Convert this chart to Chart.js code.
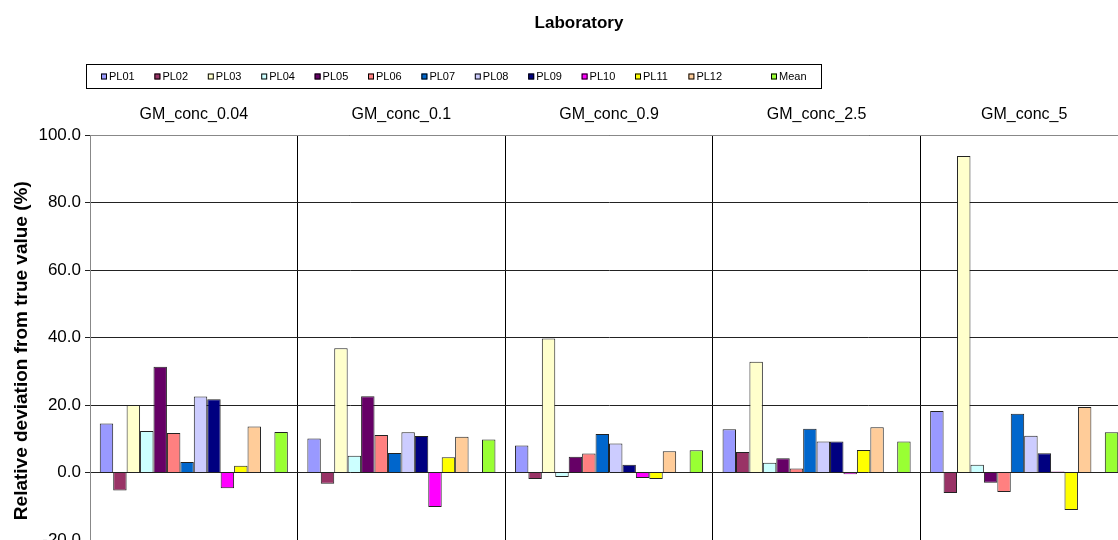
<!DOCTYPE html>
<html><head><meta charset="utf-8">
<script src="https://cdn.jsdelivr.net/npm/chart.js@4.4.1/dist/chart.umd.min.js"></script>
<style>html,body{margin:0;padding:0;overflow:hidden;background:#fff;width:1118px;height:540px}canvas{display:block}</style>
</head><body><canvas id="c" width="1158" height="560"></canvas>
<script>
const categories = ['GM_conc_0.04', 'GM_conc_0.1', 'GM_conc_0.9', 'GM_conc_2.5', 'GM_conc_5'];
const PL01 = [14.5, 10.1, 8.0, 12.8, 18.2];
const PL02 = [-5.3, -3.3, -1.9, 6.1, -6.1];
const PL03 = [20.0, 36.8, 39.7, 32.8, 93.8];
const PL04 = [12.3, 5.0, -1.3, 2.9, 2.3];
const PL05 = [31.3, 22.6, 4.7, 4.2, -3.0];
const PL06 = [11.7, 11.1, 5.6, 1.2, -5.8];
const PL07 = [3.1, 5.8, 11.4, 13.0, 17.4];
const PL08 = [22.5, 11.9, 8.6, 9.2, 10.9];
const PL09 = [21.7, 10.8, 2.3, 9.2, 5.7];
const PL10 = [-4.7, -10.2, -1.6, -0.5, 0.3];
const PL11 = [2.0, 4.5, -1.9, 6.7, -11.1];
const PL12 = [13.6, 10.6, 6.3, 13.4, 19.4];
const BLANK = [null, null, null, null, null];
const Mean = [12.0, 9.8, 6.6, 9.2, 11.9];
const yTicks = [-20, 0, 20, 40, 60, 80, 100];

const seriesNames = ['PL01','PL02','PL03','PL04','PL05','PL06','PL07','PL08','PL09','PL10','PL11','PL12','','Mean'];
const seriesValues = [PL01,PL02,PL03,PL04,PL05,PL06,PL07,PL08,PL09,PL10,PL11,PL12,BLANK,Mean];
const seriesColors = ['#9999FF','#993366','#FFFFCC','#CCFFFF','#660066','#FF8080','#0066CC','#CCCCFF','#000080','#FF00FF','#FFFF00','#FFCC99','#FFFFFF','#99FF33'];

const FONT = 'Liberation Sans, Arial, sans-serif';
Chart.defaults.font.family = FONT;
Chart.defaults.color = '#000';

const legendBox = {
  id: 'legendBox',
  afterDraw(chart) {
    const ctx = chart.ctx;
    ctx.save();
    ctx.strokeStyle = '#000';
    ctx.lineWidth = 1;
    ctx.strokeRect(86.5, 64.5, 735, 24);
    ctx.font = '11px ' + FONT;
    ctx.textBaseline = 'middle';
    ctx.textAlign = 'left';
    const y = 76.5;
    let k = 0;
    chart.data.datasets.forEach((ds) => {
      if (!ds.label) return;
      const x = ds.label === 'Mean' ? 771 : 101 + k * 53.4;
      k++;
      ctx.fillStyle = ds.backgroundColor;
      ctx.fillRect(x, y - 3, 6, 6);
      ctx.strokeStyle = '#000';
      ctx.strokeRect(x + 0.5, y - 3 + 0.5, 5, 5);
      ctx.fillStyle = '#000';
      ctx.fillText(ds.label, x + 8, y);
    });
    ctx.restore();
  }
};

new Chart(document.getElementById('c'), {
  type: 'bar',
  data: {
    labels: categories,
    datasets: seriesNames.map((n, i) => ({
      label: n,
      data: seriesValues[i],
      backgroundColor: seriesColors[i],
      borderColor: '#222',
      borderWidth: 1,
      categoryPercentage: 0.906,
      barPercentage: 1.0
    }))
  },
  options: {
    responsive: false,
    animation: false,
    devicePixelRatio: 1,
    layout: { padding: { left: 0, right: 0, top: 0, bottom: 20 } },
    plugins: {
      legend: { display: false },
      tooltip: { enabled: false },
      title: {
        display: true,
        text: 'Laboratory',
        font: { size: 17, weight: 'bold', family: FONT },
        color: '#000',
        padding: { top: 13, bottom: 66.6 }
      }
    },
    scales: {
      x: {
        position: 'top',
        grid: { display: true, offset: true, color: '#000', drawTicks: false, lineWidth: 1 },
        border: { display: true, color: '#888' },
        ticks: { font: { size: 16 }, color: '#000', padding: 11, maxRotation: 0, autoSkip: false },
        afterFit(s) { s.height = 35; }
      },
      y: {
        position: 'left',
        min: -20, max: 100,
        afterBuildTicks(s) { s.ticks = yTicks.map(v => ({ value: v })); },
        ticks: { font: { size: 17 }, color: '#000', padding: 4, callback: v => Number(v).toFixed(1) },
        grid: { color: '#222', tickColor: '#222', tickLength: 5, drawTicks: true },
        border: { display: true, color: '#888' },
        title: {
          display: true,
          text: 'Relative deviation from true value (%)     ',
          font: { size: 19, weight: 'bold', family: FONT },
          color: '#000',
          padding: { top: 10, bottom: 0 }
        },
        afterFit(s) { s.width = 90; }
      },
      yR: {
        position: 'right',
        display: true,
        ticks: { display: false },
        grid: { display: false },
        border: { display: false },
        afterFit(s) { s.width = 30; }
      }
    }
  },
  plugins: [legendBox]
});
</script>
</body></html>
